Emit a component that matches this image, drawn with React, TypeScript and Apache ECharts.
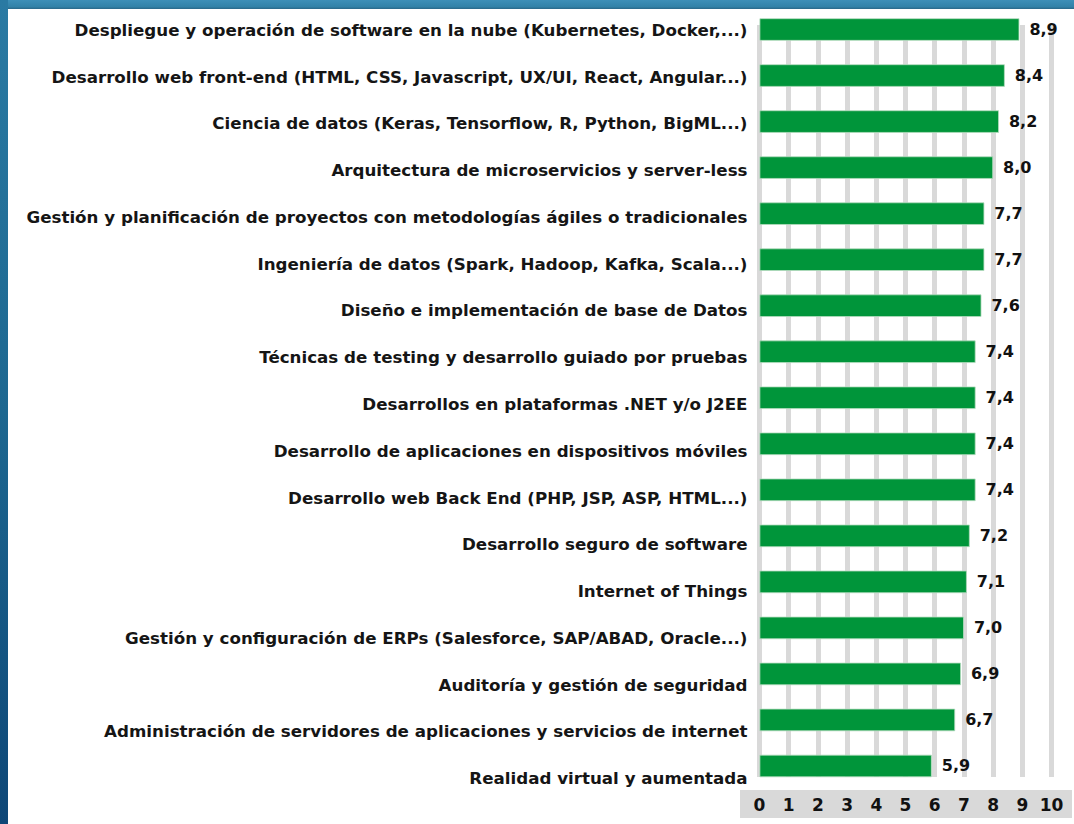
import React, { useEffect, useRef } from "react";
import * as echarts from "echarts";

const categories = [
  "Despliegue y operación de software en la nube (Kubernetes, Docker,...)",
  "Desarrollo web front-end (HTML, CSS, Javascript, UX/UI, React, Angular...)",
  "Ciencia de datos (Keras, Tensorflow, R, Python, BigML...)",
  "Arquitectura de microservicios y server-less",
  "Gestión y planificación de proyectos con metodologías ágiles o tradicionales",
  "Ingeniería de datos (Spark, Hadoop, Kafka, Scala...)",
  "Diseño e implementación de base de Datos",
  "Técnicas de testing y desarrollo guiado por pruebas",
  "Desarrollos en plataformas .NET y/o J2EE",
  "Desarrollo de aplicaciones en dispositivos móviles",
  "Desarrollo web Back End (PHP, JSP, ASP, HTML...)",
  "Desarrollo seguro de software",
  "Internet of Things",
  "Gestión y configuración de ERPs (Salesforce, SAP/ABAD, Oracle...)",
  "Auditoría y gestión de seguridad",
  "Administración de servidores de aplicaciones y servicios de internet",
  "Realidad virtual y aumentada",
];

const values = [8.9, 8.4, 8.2, 8.0, 7.7, 7.7, 7.6, 7.4, 7.4, 7.4, 7.4, 7.2, 7.1, 7.0, 6.9, 6.7, 5.9];

const xTicks = [0, 10, 1];

const CAT_FONT = "'DejaVu Sans', sans-serif";

export default function App() {
  const ref = useRef<HTMLDivElement>(null);
  useEffect(() => {
    if (!ref.current) return;
    const chart = echarts.init(ref.current, undefined, { renderer: "svg" });
    const left = 759.5;
    const right = 22.5;
    chart.setOption({
      animation: false,
      backgroundColor: "#ffffff",
      graphic: [
        {
          type: "rect",
          shape: { x: 0, y: 0, width: 1074, height: 9 },
          style: {
            fill: new echarts.graphic.LinearGradient(0, 0, 0, 1, [
              { offset: 0, color: "#3d8fb8" },
              { offset: 0.75, color: "#3282a8" },
              { offset: 1, color: "#2a6788" },
            ]),
          },
          z: 10,
        },
        {
          type: "rect",
          shape: { x: 0, y: 0, width: 8, height: 824 },
          style: {
            fill: new echarts.graphic.LinearGradient(0, 0, 0, 1, [
              { offset: 0, color: "#2a7aa3" },
              { offset: 0.5, color: "#1d6790" },
              { offset: 1, color: "#0e4777" },
            ]),
          },
          z: 10,
        },
        {
          type: "rect",
          shape: { x: 740, y: 790, width: 332, height: 28 },
          style: { fill: "#d9d9d9" },
          z: -1,
        },
      ],
      grid: [
        { left, right, top: 25, bottom: 47 },
        { left, right, top: 6.5, bottom: 35 },
        { left, right, top: 6.6, bottom: 22.6 },
      ],
      xAxis: [
        {
          gridIndex: 0,
          type: "value",
          min: xTicks[0],
          max: xTicks[1],
          interval: xTicks[2],
          axisLabel: { show: false },
          axisLine: { show: false },
          axisTick: { show: false },
          splitLine: { show: true, lineStyle: { color: "#d9d9d9", width: 5 } },
        },
        {
          gridIndex: 1,
          type: "value",
          min: xTicks[0],
          max: xTicks[1],
          interval: xTicks[2],
          axisLine: { show: false },
          axisTick: { show: false },
          splitLine: { show: false },
          axisLabel: {
            margin: 7,
            color: "#111111",
            fontFamily: CAT_FONT,
            fontWeight: "bold",
            fontSize: 17,
          },
        },
        {
          gridIndex: 2,
          type: "value",
          min: 0,
          max: 10,
          show: false,
        },
      ],
      yAxis: [
        {
          gridIndex: 0,
          type: "category",
          data: categories,
          show: false,
        },
        {
          gridIndex: 1,
          type: "category",
          data: categories,
          inverse: true,
          axisLine: { show: false },
          axisTick: { show: false },
          axisLabel: { show: false },
        },
        {
          gridIndex: 2,
          type: "category",
          data: categories,
          inverse: true,
          axisLine: { show: false },
          axisTick: { show: false },
          axisLabel: {
            margin: 12,
            color: "#151515",
            fontFamily: CAT_FONT,
            fontWeight: "bold",
            fontSize: 16.7,
          },
        },
      ],
      series: [
        {
          type: "bar",
          xAxisIndex: 1,
          yAxisIndex: 1,
          data: values,
          barWidth: 22.5,
          itemStyle: { color: "#00953a", borderColor: "#b5dcbf", borderWidth: 0.8 },
          label: {
            show: true,
            position: "right",
            distance: 10,
            color: "#111111",
            fontFamily: CAT_FONT,
            fontWeight: "bold",
            fontSize: 16,
            formatter: (p: any) => Number(p.value).toFixed(1).replace(".", ","),
          },
        },
      ],
    });
    return () => chart.dispose();
  }, []);
  return (
    <div
      ref={ref}
      style={{ position: "fixed", left: 0, top: 0, width: 1074, height: 824 }}
    />
  );
}
